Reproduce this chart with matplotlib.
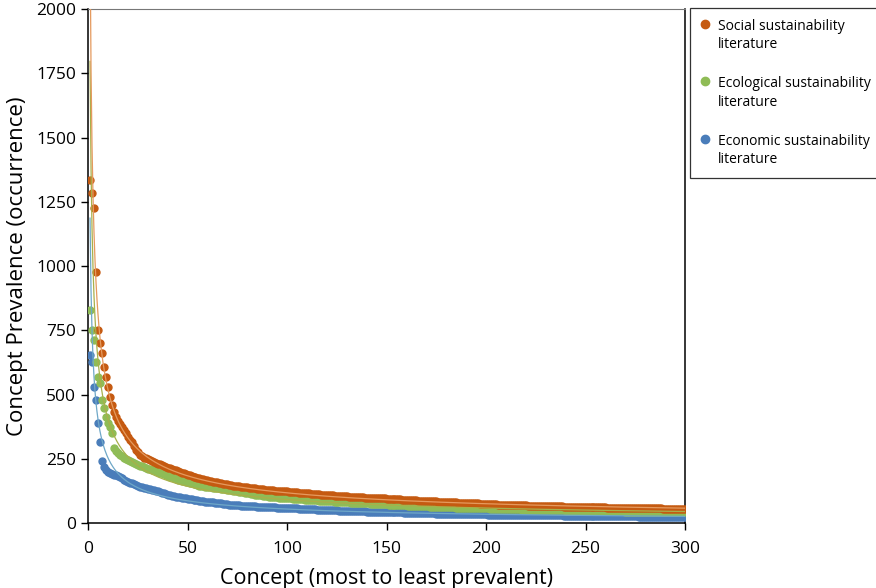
import numpy as np
import matplotlib
matplotlib.use("Agg")
import matplotlib.pyplot as plt

plt.rcParams['font.family'] = ['Open Sans', 'DejaVu Sans']

# concept prevalence, ranked most to least prevalent
social = [
    1335, 1284, 1225, 975, 750, 700, 660, 607, 568, 530,
    490, 460, 432, 412, 398, 385, 374, 362, 350, 335,
    322, 315, 300, 284, 275, 265, 260, 255, 252, 248,
    244, 240, 237, 234, 231, 228, 225, 222, 219, 216,
    213, 210, 208, 205, 202, 199, 196, 193, 190, 187,
    185, 183, 181, 179, 177, 175, 173, 171, 169, 167,
    165, 163, 161, 159, 158, 156, 155, 153, 152, 150,
    149, 148, 146, 145, 144, 143, 142, 141, 140, 139,
    138, 137, 136, 135, 134, 133, 132, 131, 130, 129,
    128, 127, 127, 126, 125, 125, 124, 124, 123, 123,
    122, 121, 121, 120, 119, 118, 118, 117, 116, 116,
    115, 114, 114, 113, 112, 112, 111, 111, 110, 110,
    109, 108, 108, 107, 107, 106, 106, 105, 104, 104,
    103, 103, 102, 102, 101, 101, 100, 100, 99, 99,
    99, 98, 98, 97, 97, 97, 96, 96, 96, 95,
    95, 94, 94, 93, 93, 92, 92, 91, 91, 90,
    90, 89, 89, 88, 88, 87, 87, 86, 86, 85,
    85, 85, 84, 84, 84, 83, 83, 82, 82, 82,
    81, 81, 80, 80, 80, 79, 79, 78, 78, 78,
    77, 77, 77, 76, 76, 76, 75, 75, 75, 74,
    74, 74, 73, 73, 73, 72, 72, 72, 72, 71,
    71, 71, 70, 70, 70, 70, 69, 69, 69, 69,
    68, 68, 68, 68, 67, 67, 67, 67, 66, 66,
    66, 66, 66, 65, 65, 65, 65, 65, 64, 64,
    64, 64, 64, 63, 63, 63, 63, 63, 62, 62,
    62, 62, 62, 62, 61, 61, 61, 61, 61, 61,
    60, 60, 60, 60, 60, 60, 59, 59, 59, 59,
    59, 59, 59, 58, 58, 58, 58, 58, 58, 58,
    57, 57, 57, 57, 57, 57, 57, 57, 56, 56,
    56, 56, 56, 56, 56, 56, 55, 55, 55, 55,
]

ecological = [
    829, 751, 712, 625, 568, 545, 479, 447, 412, 390,
    374, 350, 292, 280, 272, 265, 260, 255, 250, 245,
    240, 236, 232, 229, 226, 223, 220, 218, 215, 212,
    210, 208, 205, 202, 199, 196, 193, 190, 187, 184,
    181, 178, 175, 172, 169, 167, 165, 163, 160, 158,
    156, 154, 152, 150, 148, 146, 145, 143, 142, 141,
    140, 139, 138, 137, 136, 135, 134, 133, 131, 130,
    128, 127, 126, 124, 123, 122, 120, 119, 117, 116,
    115, 114, 112, 111, 110, 109, 108, 106, 105, 104,
    103, 102, 102, 101, 100, 99, 99, 98, 97, 97,
    96, 96, 95, 94, 94, 93, 92, 92, 91, 90,
    90, 89, 89, 88, 88, 87, 87, 86, 86, 85,
    85, 84, 84, 83, 83, 82, 82, 81, 81, 80,
    80, 79, 79, 78, 78, 77, 77, 77, 76, 76,
    76, 75, 75, 75, 74, 74, 74, 73, 73, 73,
    72, 72, 71, 71, 71, 70, 70, 69, 69, 69,
    68, 68, 67, 67, 67, 66, 66, 66, 65, 65,
    65, 64, 64, 64, 63, 63, 63, 62, 62, 62,
    62, 61, 61, 61, 60, 60, 60, 60, 59, 59,
    59, 59, 58, 58, 58, 58, 58, 57, 57, 57,
    57, 56, 56, 56, 56, 55, 55, 55, 55, 54,
    54, 54, 54, 53, 53, 53, 53, 52, 52, 52,
    52, 52, 51, 51, 51, 51, 51, 50, 50, 50,
    50, 50, 50, 49, 49, 49, 49, 49, 49, 48,
    48, 48, 48, 48, 48, 47, 47, 47, 47, 47,
    47, 47, 46, 46, 46, 46, 46, 46, 46, 46,
    45, 45, 45, 45, 45, 45, 45, 45, 45, 44,
    44, 44, 44, 44, 44, 44, 44, 44, 44, 44,
    43, 43, 43, 43, 43, 43, 43, 43, 43, 43,
    43, 42, 42, 42, 42, 42, 42, 42, 42, 42,
]

economic = [
    654, 626, 529, 479, 389, 315, 241, 218, 205, 198,
    193, 189, 187, 185, 182, 178, 174, 169, 164, 160,
    157, 154, 151, 148, 145, 142, 140, 138, 136, 134,
    132, 130, 128, 126, 124, 121, 118, 116, 114, 111,
    109, 107, 105, 103, 101, 100, 98, 97, 96, 94,
    93, 92, 90, 89, 88, 87, 86, 84, 83, 82,
    82, 81, 80, 79, 78, 77, 76, 75, 74, 73,
    72, 71, 70, 70, 69, 69, 68, 68, 67, 67,
    66, 66, 65, 65, 64, 64, 63, 63, 62, 62,
    62, 61, 61, 61, 60, 60, 60, 59, 59, 59,
    59, 58, 58, 57, 57, 56, 56, 55, 55, 54,
    54, 53, 53, 53, 52, 52, 51, 51, 51, 50,
    50, 50, 49, 49, 49, 48, 48, 48, 47, 47,
    47, 46, 46, 46, 46, 45, 45, 45, 45, 44,
    44, 44, 44, 44, 43, 43, 43, 43, 43, 42,
    42, 42, 42, 41, 41, 41, 41, 41, 40, 40,
    40, 40, 40, 39, 39, 39, 39, 39, 38, 38,
    38, 38, 38, 38, 37, 37, 37, 37, 37, 37,
    36, 36, 36, 36, 36, 36, 35, 35, 35, 35,
    35, 35, 35, 34, 34, 34, 34, 34, 34, 34,
    33, 33, 33, 33, 33, 33, 33, 33, 32, 32,
    32, 32, 32, 32, 32, 32, 32, 31, 31, 31,
    31, 31, 31, 31, 31, 31, 31, 30, 30, 30,
    30, 30, 30, 30, 30, 30, 30, 30, 29, 29,
    29, 29, 29, 29, 29, 29, 29, 29, 29, 28,
    28, 28, 28, 28, 28, 28, 28, 28, 27, 27,
    27, 27, 27, 27, 27, 27, 27, 26, 26, 26,
    26, 26, 26, 26, 26, 26, 25, 25, 25, 25,
    25, 25, 25, 25, 25, 24, 24, 24, 24, 24,
    24, 24, 24, 23, 23, 23, 23, 23, 23, 23,
]

labels = ["Social sustainability\nliterature",
          "Ecological sustainability\nliterature",
          "Economic sustainability\nliterature"]
colors = ["#C55A11", "#8FBC56", "#4A7DBA"]
trend_colors = ["#E59A5E", "#A8B04A", "#6FA8C8"]

fig = plt.figure(figsize=(8.76, 5.88), dpi=100)
ax = fig.add_axes([0.1005, 0.1105, 0.6815, 0.874])

series = [social, ecological, economic]
# draw economic first so social sits on top
for vals, lab, col, tcol in list(zip(series, labels, colors, trend_colors))[::-1]:
    y = np.array(vals, dtype=float)
    x = np.arange(1, len(y) + 1)
    ax.plot(x, y, 'o', ms=5, color=col, mec=col, label=lab, zorder=3)
    # power trend line, fitted in log-log space
    b, log_a = np.polyfit(np.log(x), np.log(y), 1)
    xt = np.linspace(1, len(y), 600)
    ax.plot(xt, np.exp(log_a) * xt ** b, '-', lw=0.9, color=tcol, zorder=4)

ax.set_xlim(0, 300)
ax.set_ylim(0, 2000)
ax.set_xticks(np.arange(0, 301, 50))
ax.set_yticks(np.arange(0, 2001, 250))
ax.tick_params(direction='out', length=5, width=1, labelsize=12.5, colors='black')
ax.tick_params(axis='x', pad=8)
for s in ['left', 'bottom', 'right']:
    ax.spines[s].set_color('black')
    ax.spines[s].set_linewidth(1.1)
ax.spines['top'].set_color('#777777')

ax.set_xlabel("Concept (most to least prevalent)", fontsize=15.5, labelpad=8)
ax.set_ylabel("Concept Prevalence (occurrence)", fontsize=16, labelpad=6)

handles, labs = ax.get_legend_handles_labels()
order = [labs.index(l) for l in labels]
leg = fig.legend([handles[i] for i in order], [labs[i] for i in order],
                 loc='upper left', bbox_to_anchor=(0.7877, 0.987),
                 borderaxespad=0, frameon=True, fancybox=False,
                 edgecolor='black', fontsize=10, labelspacing=1.75,
                 handlelength=0.6, handletextpad=0.6, borderpad=0.8,
                 markerscale=1.2)
leg.get_frame().set_linewidth(0.9)
for t in leg.get_texts():
    t.set_linespacing(1.3)
# put each marker next to the first line of its label
for col_box in leg._legend_handle_box.get_children():
    for row in col_box.get_children():
        row.align = 'top'

fig.savefig("out.png", dpi=100)
